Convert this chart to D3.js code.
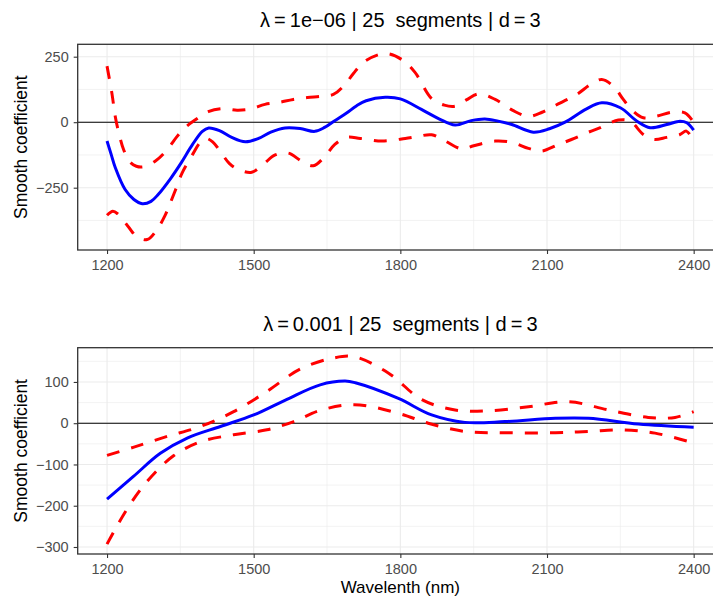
<!DOCTYPE html>
<html><head><meta charset="utf-8">
<script src="https://cdn.jsdelivr.net/npm/d3@7"></script>
<style>
body{margin:0;background:#fff}
svg{display:block}
text{font-family:"Liberation Sans",Arial,Helvetica,sans-serif}
</style>
</head><body>
<svg id="chart" width="713" height="597"></svg>
<script>
// ---------- data ----------
const xTicks = [1200, 1500, 1800, 2100, 2400];
const xMinor = [1350, 1650, 1950, 2250];
const topYTicks = [-250, 0, 250];
const topYMinor = [-375, -125, 125];
const botYTicks = [-300, -200, -100, 0, 100];
const botYMinor = [-250, -150, -50, 50, 150];
const topTitle = "λ\u2009=\u20091e−06 | 25  segments | d\u2009=\u20093";
const botTitle = "λ\u2009=\u20090.001 | 25  segments | d\u2009=\u20093";
const yTitle = "Smooth coefficient";
const xTitle = "Wavelenth (nm)";

// top panel (lambda = 1e-06)
const topFitW = [1200,1208,1217,1237,1255,1272,1290,1305,1330,1350,1375,1395,1408,1430,1455,1483,1510,1535,1564,1595,1625,1645,1665,1690,1710,1730,1769,1800,1844,1880,1912,1945,1973,2000,2028,2072,2105,2137,2180,2212,2250,2284,2311,2345,2372,2386,2400];
const topFit  = [-72,-120,-174,-257,-295,-311,-302,-275,-215,-160,-85,-35,-22,-32,-58,-75,-62,-38,-22,-24,-35,-20,5,35,62,82,95,89,48,12,-11,6,12,4,-9,-38,-25,0,50,74,55,4,-21,-9,4,-2,-30];
const topUpW = [1200,1210,1217,1224,1234,1247,1260,1275,1299,1323,1343,1360,1380,1407,1435,1466,1493,1523,1550,1581,1610,1639,1663,1687,1704,1728,1769,1803,1830,1864,1890,1912,1935,1960,1994,2030,2062,2090,2117,2160,2190,2212,2236,2256,2273,2297,2324,2355,2382,2400];
const topUp  = [214,110,20,-40,-105,-152,-168,-170,-148,-105,-55,-20,8,40,52,46,50,68,75,87,94,99,106,144,186,233,262,239,190,90,65,61,85,108,87,45,22,38,64,105,145,163,137,87,48,17,23,38,36,0];
const topLoW = [1200,1212,1222,1244,1261,1282,1302,1319,1329,1340,1353,1376,1390,1402,1416,1434,1450,1468,1496,1520,1544,1571,1599,1622,1646,1666,1690,1718,1762,1810,1834,1864,1890,1926,1950,1994,2030,2062,2089,2120,2150,2185,2209,2246,2270,2297,2318,2345,2372,2385,2400];
const topLo  = [-355,-340,-350,-400,-437,-448,-410,-355,-310,-259,-196,-120,-78,-62,-75,-118,-157,-180,-191,-160,-125,-118,-150,-166,-130,-85,-58,-62,-72,-62,-55,-48,-70,-102,-90,-72,-78,-100,-110,-88,-66,-38,-21,8,4,-47,-66,-58,-47,-34,-72];

// bottom panel (lambda = 0.001)
const botFitW = [1200,1254,1309,1364,1432,1500,1568,1636,1687,1708,1796,1864,1932,2014,2117,2185,2287,2400];
const botFit  = [-184,-129,-73,-36,-8,20,58,93,102,98,60,20,2,4,12,12,-2,-10];
const botUpW = [1200,1255,1323,1391,1459,1527,1595,1663,1706,1776,1844,1912,1980,2062,2144,2226,2307,2362,2400];
const botUp  = [-78,-58,-32,-8,28,77,131,158,161,121,57,32,30,40,52,32,14,14,28];
const botLoW = [1200,1240,1282,1336,1391,1459,1527,1582,1636,1706,1796,1857,1932,2014,2117,2185,2253,2321,2400];
const botLo  = [-293,-210,-141,-79,-45,-28,-16,4,31,45,24,0,-20,-23,-23,-20,-16,-24,-48];

// ---------- drawing ----------
const svg = d3.select("#chart");
const left = 77.7, right = 723;
const x = d3.scaleLinear().domain([1140, 2460]).range([left, right]);
const FONT = '"Liberation Sans", Arial, sans-serif';

function panel(id, top, bottom, yDomain, yTicks, yMinor, title, series, showXTitle) {
  const y = d3.scaleLinear().domain(yDomain).range([bottom, top]);
  const g = svg.append("g");
  g.append("clipPath").attr("id", "clip" + id)
    .append("rect").attr("x", left).attr("y", top).attr("width", right - left).attr("height", bottom - top);
  const grid = g.append("g");
  grid.selectAll(".hm").data(yMinor).join("line")
    .attr("x1", left).attr("x2", right).attr("y1", d => y(d)).attr("y2", d => y(d))
    .attr("stroke", "#EBEBEB").attr("stroke-width", 0.6);
  grid.selectAll(".vm").data(xMinor).join("line")
    .attr("y1", top).attr("y2", bottom).attr("x1", d => x(d)).attr("x2", d => x(d))
    .attr("stroke", "#EBEBEB").attr("stroke-width", 0.6);
  grid.selectAll(".hM").data(yTicks).join("line")
    .attr("x1", left).attr("x2", right).attr("y1", d => y(d)).attr("y2", d => y(d))
    .attr("stroke", "#EBEBEB").attr("stroke-width", 1.1);
  grid.selectAll(".vM").data(xTicks).join("line")
    .attr("y1", top).attr("y2", bottom).attr("x1", d => x(d)).attr("x2", d => x(d))
    .attr("stroke", "#EBEBEB").attr("stroke-width", 1.1);
  g.append("line").attr("x1", left).attr("x2", right).attr("y1", y(0)).attr("y2", y(0))
    .attr("stroke", "#000").attr("stroke-width", 1.1);
  const lines = g.append("g").attr("clip-path", `url(#clip${id})`);
  series.forEach(s => {
    const pts = s.w.map((w, i) => [w, s.v[i]]);
    const line = d3.line().x(d => x(d[0])).y(d => y(d[1])).curve(d3.curveCatmullRom.alpha(0.5));
    lines.append("path").attr("d", line(pts)).attr("fill", "none")
      .attr("stroke", s.color).attr("stroke-width", 3)
      .attr("stroke-dasharray", s.dash || null);
  });
  g.append("rect").attr("x", left).attr("y", top).attr("width", right - left).attr("height", bottom - top)
    .attr("fill", "none").attr("stroke", "#333333").attr("stroke-width", 1.3);
  const ax = d3.axisBottom(x).tickValues(xTicks).tickSize(4).tickPadding(6).tickFormat(d3.format("d"));
  const axg = g.append("g").attr("transform", `translate(0,${bottom})`).call(ax);
  const ay = d3.axisLeft(y).tickValues(yTicks).tickSize(4).tickPadding(5)
    .tickFormat(d => d < 0 ? "−" + Math.abs(d) : d);
  const ayg = g.append("g").attr("transform", `translate(${left},0)`).call(ay);
  [axg, ayg].forEach(a => {
    a.select(".domain").remove();
    a.selectAll(".tick line").attr("stroke", "#333333").attr("stroke-width", 1.1);
    a.selectAll(".tick text").attr("fill", "#4D4D4D").style("font-size", "14.5px").style("font-family", FONT);
  });
  g.append("text").attr("x", (left + right) / 2).attr("y", top - 17)
    .attr("text-anchor", "middle").style("font-size", "20px").style("white-space", "pre")
    .attr("fill", "#000").text(title);
  g.append("text").attr("transform", `translate(27,${(top + bottom) / 2}) rotate(-90)`)
    .attr("text-anchor", "middle").style("font-size", "17.5px").attr("fill", "#000").text(yTitle);
  if (showXTitle) {
    g.append("text").attr("x", (left + right) / 2).attr("y", 592.5)
      .attr("text-anchor", "middle").style("font-size", "17px").attr("fill", "#000").text(xTitle);
  }
}

panel("t", 44.3, 250, [-487.8, 297.3], topYTicks, topYMinor, topTitle, [
  {w: topUpW, v: topUp, color: "#FF0000", dash: "13,12"},
  {w: topLoW, v: topLo, color: "#FF0000", dash: "13,12"},
  {w: topFitW, v: topFit, color: "#0000FF"}
], false);

panel("b", 347.7, 554, [-317, 183], botYTicks, botYMinor, botTitle, [
  {w: botUpW, v: botUp, color: "#FF0000", dash: "13,12"},
  {w: botLoW, v: botLo, color: "#FF0000", dash: "13,12"},
  {w: botFitW, v: botFit, color: "#0000FF"}
], true);
</script>
</body></html>
